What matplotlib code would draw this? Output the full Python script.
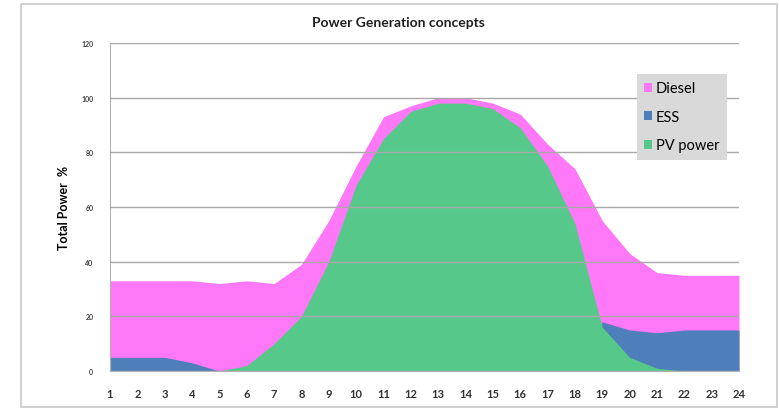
#!/usr/bin/env python
import matplotlib
matplotlib.use("Agg")
import matplotlib.pyplot as plt
from matplotlib.patches import Rectangle, Patch

hours  = list(range(1, 25))
diesel = [33, 33, 33, 33, 32, 33, 32, 39, 55, 75, 93, 97, 100, 100, 98, 94, 83, 74, 55, 43, 36, 35, 35, 35]
ess    = [5, 5, 5, 3, 0, 0, 0, 0, 0, 0, 0, 0, 0, 0, 0, 0, 0, 0, 18, 15, 14, 15, 15, 15]
pv     = [0, 0, 0, 0, 0, 2, 10, 20, 40, 68, 85, 95, 98, 98, 96, 89, 75, 54, 16, 5, 1, 0, 0, 0]

series_names  = ["Diesel", "ESS", "PV power"]
series_colors = ["#ff78f8", "#4f7fbb", "#56c98a"]
y_ticks = [0, 20, 40, 60, 80, 100, 120]

def main():
  plt.rcParams['font.family'] = ['Lato', 'DejaVu Sans']
  fig = plt.figure(figsize=(7.79, 4.10), dpi=100)
  W, H = 779., 410.

  # outer chart frame
  fig.patches.append(Rectangle((21/W, 2/H), 756/W, 403/H, transform=fig.transFigure,
                               fill=False, edgecolor="#d0d0d0", linewidth=1.4))

  ax = fig.add_axes([110/W, 1-372/H, (739-110)/W, (372-44)/H])
  for name, vals, col in zip(series_names, [diesel, ess, pv], series_colors):
    ax.fill_between(hours, 0, vals, color=col, linewidth=0, label=name, zorder=2)

  ax.set_xlim(1, 24)
  ax.set_ylim(0, 120)
  ax.set_xticks(hours)
  ax.set_yticks(y_ticks)
  ax.set_yticklabels([str(t) for t in y_ticks], fontsize=5, fontweight='bold', color='#404040')
  ax.set_xticklabels([str(h) for h in hours], fontsize=8, fontweight='bold', color='#303030')
  ax.tick_params(axis='both', length=0)
  ax.tick_params(axis='y', pad=12)
  ax.tick_params(axis='x', pad=12)
  ax.grid(axis='y', color='#a8a8a8', linewidth=1.0, zorder=3)
  ax.set_axisbelow(False)
  for s in ['top', 'right']:
    ax.spines[s].set_visible(False)
  ax.spines['left'].set_color('#b0b0b0')
  ax.spines['bottom'].set_color('#b0b0b0')

  ax.set_ylabel("Total Power  %", fontsize=9, fontweight='bold', labelpad=8)

  fig.text(398/W, 1-23/H, "Power Generation concepts", fontsize=10, fontweight='bold',
           ha='center', va='center', color='#202020')

  handles = [Patch(facecolor=c, edgecolor='none') for c in series_colors]
  leg = ax.legend(handles, series_names, loc='upper left',
                  bbox_to_anchor=((637-110)/(739-110), (372-75)/(372-44)),
                  frameon=True, fancybox=False, fontsize=10.5,
                  handlelength=0.55, handleheight=0.55, handletextpad=0.25,
                  labelspacing=1.0, borderpad=0.5, borderaxespad=0)
  leg.get_frame().set_facecolor('#d9d9d9')
  leg.get_frame().set_edgecolor('none')
  leg.get_frame().set_alpha(1)
  leg.set_zorder(5)

  fig.savefig("out.png", dpi=100)

if __name__ == "__main__":
  main()
